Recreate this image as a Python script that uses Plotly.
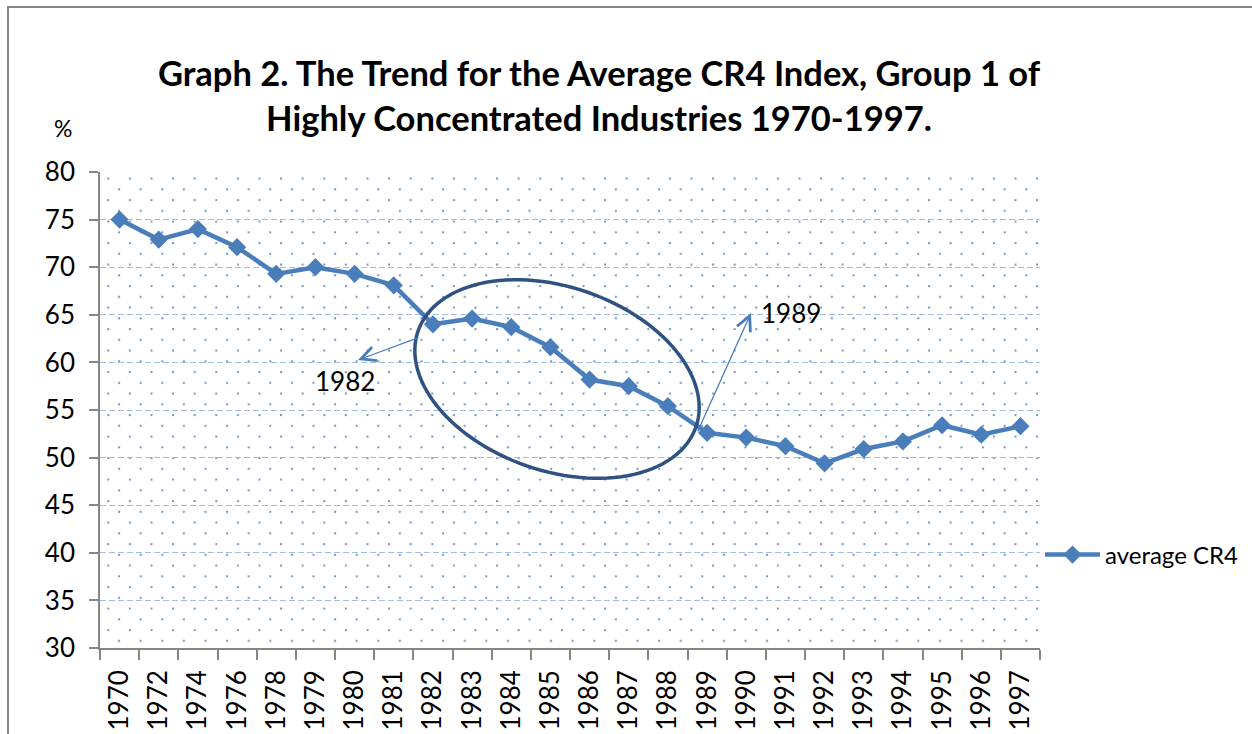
import base64
import numpy as np
import plotly.graph_objects as go

# ---- data ----
years = ["1970", "1972", "1974", "1976", "1978", "1979", "1980", "1981", "1982",
         "1983", "1984", "1985", "1986", "1987", "1988", "1989", "1990", "1991",
         "1992", "1993", "1994", "1995", "1996", "1997"]
avg_cr4 = [75.0, 72.9, 74.0, 72.1, 69.3, 70.0, 69.3, 68.1, 64.0,
           64.6, 63.7, 61.6, 58.2, 57.5, 55.4, 52.6, 52.1, 51.2,
           49.4, 50.9, 51.7, 53.4, 52.4, 53.3]
series_name = "average CR4"
y_ticks = [30, 35, 40, 45, 50, 55, 60, 65, 70, 75, 80]
title_text = ("Graph 2. The Trend for the Average CR4 Index, Group 1 of<br>"
              "Highly Concentrated Industries 1970-1997.")

# ---- layout geometry (pixels) ----
FW, FH = 1252, 734
ML = 75                     # left margin (label column edge)
L, R, T, B = 100, 1040, 172, 648   # plot area
RW, PH = R - ML, B - T


def px_x(p):
    return (p - ML) / RW


def px_y(p):
    return (B - p) / PH


FONT = "Lato"
BLUE = "#4a7ebb"
TICK_FS = 26

fig = go.Figure()
fig.add_trace(go.Scatter(
    x=years, y=avg_cr4, name=series_name, mode="lines+markers",
    line=dict(color=BLUE, width=4.5),
    marker=dict(symbol="diamond", size=14, color=BLUE),
))
# carrier for the label-only value axis
fig.add_trace(go.Scatter(x=years, y=avg_cr4, yaxis="y2", mode="markers",
                         marker=dict(opacity=0), showlegend=False, hoverinfo="skip"))

# dotted background texture
PW = R - L
svg = (
    f'<svg xmlns="http://www.w3.org/2000/svg" width="{PW}" height="{PH}" viewBox="0 0 {PW} {PH}">'
    '<defs><pattern id="p" patternUnits="userSpaceOnUse" x="3.3" y="1.6" width="21.6" height="21.5">'
    '<circle cx="5" cy="5" r="1.15" fill="#4f81bd" fill-opacity="0.85"/>'
    '<circle cx="15.8" cy="15.75" r="1.15" fill="#4f81bd" fill-opacity="0.85"/>'
    '</pattern></defs>'
    f'<rect width="{PW}" height="{PH}" fill="url(#p)"/></svg>'
)
src = "data:image/svg+xml;base64," + base64.b64encode(svg.encode()).decode()
fig.add_layout_image(dict(source=src, xref="paper", yref="paper", x=px_x(L), y=1,
                          sizex=PW / RW, sizey=1, xanchor="left", yanchor="top",
                          sizing="stretch", layer="below"))

# ellipse highlighting 1982-1988
cx, cy, a, b, th = 557, 379, 147, 92, np.deg2rad(19)
t = np.linspace(0, 2 * np.pi, 121)
ex = cx + a * np.cos(t) * np.cos(th) - b * np.sin(t) * np.sin(th)
ey = cy + a * np.cos(t) * np.sin(th) + b * np.sin(t) * np.cos(th)
path = "M " + " L ".join(f"{px_x(xx):.5f},{px_y(yy):.5f}" for xx, yy in zip(ex, ey)) + " Z"
fig.add_shape(type="path", path=path, xref="paper", yref="paper",
              line=dict(color="#2f5283", width=3.5))

# outer chart frame
fig.add_shape(type="rect", xref="paper", yref="paper",
              x0=px_x(8), x1=px_x(1270), y0=px_y(7), y1=px_y(760),
              line=dict(color="#868686", width=2), layer="above")

# arrows
for tip, tail in [((358, 360), (420, 337)), ((751, 313), (697, 433))]:
    fig.add_annotation(x=px_x(tip[0]), y=px_y(tip[1]), xref="paper", yref="paper",
                       ax=tail[0] - tip[0], ay=tail[1] - tip[1], text="",
                       showarrow=True, arrowhead=5, arrowwidth=1.3, arrowsize=2.2,
                       arrowcolor=BLUE)

# texts
for txt, px, py, fs in [("1982", 345, 381, 26), ("1989", 791, 313, 26), ("%", 63, 128, 23)]:
    fig.add_annotation(x=px_x(px), y=px_y(py), xref="paper", yref="paper", text=txt,
                       xanchor="center", yanchor="middle", showarrow=False,
                       font=dict(family=FONT, size=fs, color="black"))

fig.update_layout(
    width=FW, height=FH,
    margin=dict(l=ML, r=FW - R, t=T, b=FH - B, autoexpand=False),
    paper_bgcolor="white", plot_bgcolor="rgba(0,0,0,0)",
    font=dict(family=FONT, size=24, color="black"),
    title=dict(text=title_text, x=599 / FW, xanchor="center", xref="container",
               y=1 - 86 / FH, yanchor="top", yref="container",
               font=dict(family=FONT, size=34.5, color="black", weight="bold")),
    showlegend=True,
    legend=dict(x=1.0, xanchor="left", y=px_y(555), yanchor="middle",
                font=dict(family=FONT, size=24, color="black"),
                itemwidth=55, bgcolor="rgba(0,0,0,0)"),
    xaxis=dict(type="category", range=[-0.5, len(years) - 0.5], domain=[px_x(L), 1],
               showgrid=False, showline=True, linecolor="#868686",
               linewidth=1.5, ticks="outside", tickson="boundaries", ticklen=10,
               tickcolor="#868686", tickwidth=1.5, tickangle=-90, ticklabelstandoff=10,
               tickfont=dict(family=FONT, size=TICK_FS, color="black")),
    yaxis=dict(range=[30, 80], tickvals=y_ticks, showline=True, linecolor="#868686",
               linewidth=1.5, ticks="outside", ticklen=9, tickcolor="#868686",
               tickwidth=1.5, showgrid=True, gridcolor="#a3bde0", gridwidth=1,
               griddash="6px,3px", zeroline=False, showticklabels=False),
    yaxis2=dict(range=[30, 80], tickvals=y_ticks, overlaying="y", anchor="free",
                position=0, side="left", showline=False, ticks="", showgrid=False,
                zeroline=False, showticklabels=True,
                tickfont=dict(family=FONT, size=TICK_FS, color="black")),
)

fig.write_html("out.html", config={"displayModeBar": False},
               post_script="document.body.style.margin='0';")
